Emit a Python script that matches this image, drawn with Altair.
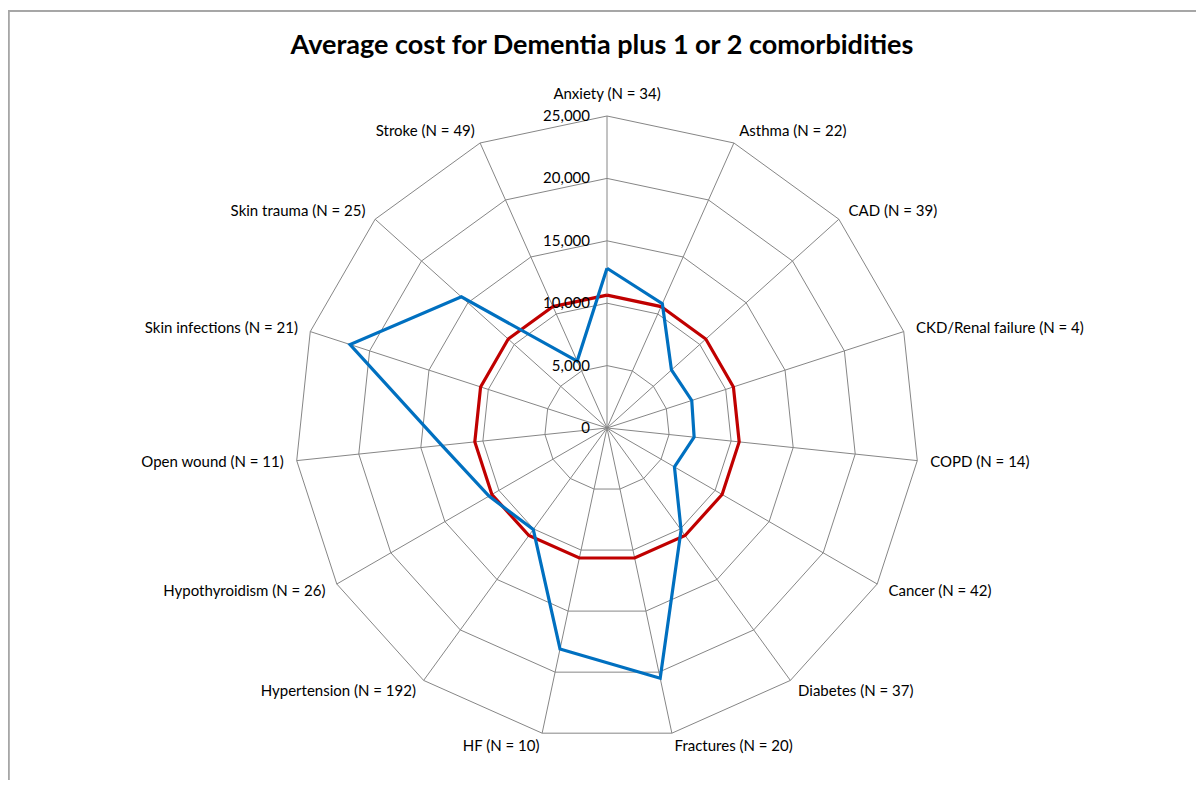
import altair as alt
import pandas as pd

# ---------------- data ----------------
categories = [
    "Anxiety (N = 34)", "Asthma (N = 22)", "CAD (N = 39)", "CKD/Renal failure (N = 4)",
    "COPD (N = 14)", "Cancer (N = 42)", "Diabetes (N = 37)", "Fractures (N = 20)",
    "HF (N = 10)", "Hypertension (N = 192)", "Hypothyroidism (N = 26)", "Open wound (N = 11)",
    "Skin infections (N = 21)", "Skin trauma  (N = 25)", "Stroke (N = 49)",
]
cost_values = [12800, 10900, 6950, 7140, 7020, 6240, 10100, 20500,
               18100, 10050, 10920, 13300, 21650, 15700, 5870]
average_values = [10650, 10650, 10650, 10650, 10650, 10650, 10650, 10650,
                  10650, 10650, 10650, 10650, 10650, 10650, 10650]
ticks = [0, 5000, 10000, 15000, 20000, 25000]

N = len(categories)
RMAX = ticks[-1]

# ---------------- layout ----------------
W, H = 1188, 762
CX, CY = 599, 418           # centre of the radar inside the plot area (px)
RPX = 312                    # pixel radius of the outer ring
u = RMAX / RPX               # data units per pixel
xdom = [-CX * u, (W - CX) * u]
ydom = [-(H - CY) * u, CY * u]
LAB_R = 325 * u
TOP_SHIFT = 9 * u
FONT = "Lato"

xs = alt.Scale(domain=xdom, nice=False, zero=False)
ys = alt.Scale(domain=ydom, nice=False, zero=False)

# ---------------- tables ----------------
series_rows = []
for name, vals in [("cost", cost_values), ("average", average_values)]:
    for k in range(N + 1):
        series_rows.append({"series": name, "idx": k % N, "ord": k, "value": vals[k % N]})
series_df = pd.DataFrame(series_rows)

ring_rows = []
for t in ticks[1:]:
    for k in range(N + 1):
        ring_rows.append({"ring": t, "idx": k % N, "ord": k, "value": t})
ring_df = pd.DataFrame(ring_rows)

spoke_df = pd.DataFrame({"idx": list(range(N)), "value": [RMAX] * N, "label": categories})
tick_df = pd.DataFrame({"tick": ticks})

xexpr = f"datum.value * sin(datum.idx * 2 * PI / {N})"
yexpr = f"datum.value * cos(datum.idx * 2 * PI / {N})"

GRID = "#868686"
FRAME = "#a6a6a6"

rings = alt.Chart(ring_df).transform_calculate(px=xexpr, py=yexpr).mark_line(
    color=GRID, strokeWidth=1
).encode(
    x=alt.X("px:Q", scale=xs, axis=None),
    y=alt.Y("py:Q", scale=ys, axis=None),
    detail="ring:N",
    order="ord:Q",
)

spokes = alt.Chart(spoke_df).transform_calculate(
    px=xexpr, py=yexpr, zx="0", zy="0"
).mark_rule(color=GRID, strokeWidth=1).encode(
    x=alt.X("zx:Q", scale=xs, axis=None),
    y=alt.Y("zy:Q", scale=ys, axis=None),
    x2="px:Q",
    y2="py:Q",
)

def series_line(name, color):
    return alt.Chart(series_df).transform_filter(
        alt.datum.series == name
    ).transform_calculate(px=xexpr, py=yexpr).mark_line(
        color=color, strokeWidth=3.2, strokeJoin="miter"
    ).encode(
        x=alt.X("px:Q", scale=xs, axis=None),
        y=alt.Y("py:Q", scale=ys, axis=None),
        order="ord:Q",
    )

avg_line = series_line("average", "#C00000")
cost_line = series_line("cost", "#0070C0")

lab_base = alt.Chart(spoke_df).transform_calculate(
    s=f"sin(datum.idx * 2 * PI / {N})",
    c=f"cos(datum.idx * 2 * PI / {N})",
).transform_calculate(
    lx=f"datum.s * {LAB_R}",
    ly=f"datum.c * {LAB_R} + (abs(datum.s) < 0.01 ? datum.c * {TOP_SHIFT} : 0)",
)

def lab_layer(cond, align):
    return lab_base.transform_filter(cond).mark_text(
        align=align, baseline="middle", font=FONT, fontSize=15, color="#000000"
    ).encode(
        x=alt.X("lx:Q", scale=xs, axis=None),
        y=alt.Y("ly:Q", scale=ys, axis=None),
        text="label:N",
    )

lab_right = lab_layer("datum.s > 0.01", "left")
lab_left = lab_layer("datum.s < -0.01", "right")
lab_center = lab_layer("abs(datum.s) <= 0.01", "center")

tick_labels = alt.Chart(tick_df).transform_calculate(zx="0").mark_text(
    align="right", baseline="middle", dx=-17, font=FONT, fontSize=15, color="#000000"
).encode(
    x=alt.X("zx:Q", scale=xs, axis=None),
    y=alt.Y("tick:Q", scale=ys, axis=None),
    text=alt.Text("tick:Q", format=","),
)

# chart-area frame (left and top edges; right/bottom lie outside the picture)
frame_left = alt.Chart(tick_df).mark_rule(color=FRAME, strokeWidth=1.5).encode(
    x=alt.value(0.5), y=alt.value(0.7), y2=alt.value(H + 8)
)
frame_top = alt.Chart(tick_df).mark_rule(color=FRAME, strokeWidth=1.5).encode(
    x=alt.value(0), x2=alt.value(W), y=alt.value(0.7)
)

chart = alt.layer(
    frame_left, frame_top, rings, spokes, avg_line, cost_line,
    lab_right, lab_left, lab_center, tick_labels
).properties(
    width=W,
    height=H,
    autosize=alt.AutoSizeParams(type="none"),
    padding={"left": 0, "top": 2, "right": 0, "bottom": 8},
    title=alt.TitleParams(
        "Average cost for Dementia plus 1 or 2 comorbidities",
        font=FONT, fontSize=27, fontWeight="bold", color="#000000",
        anchor="middle", baseline="middle", dy=67,
    ),
).configure_view(stroke="transparent")

chart.save("out.html", embed_options={"renderer": "svg", "actions": False})
